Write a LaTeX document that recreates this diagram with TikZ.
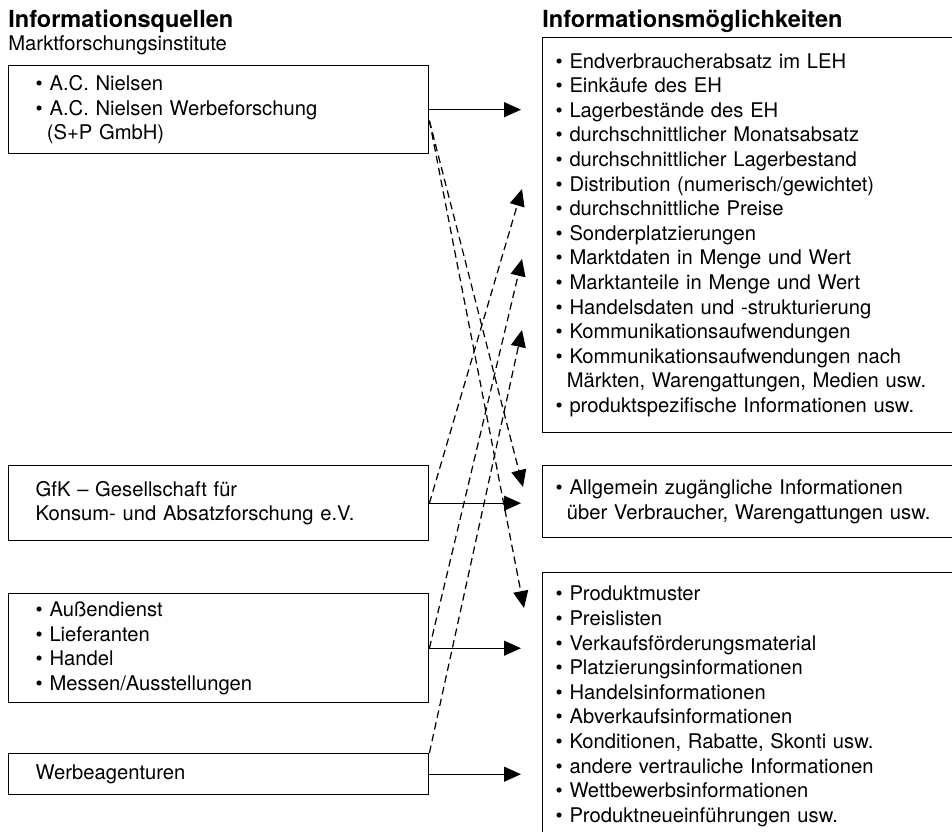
\documentclass[tikz,border=0pt]{standalone}
\usepackage{fontspec}
\setmainfont{TeX Gyre Heros}
\usepackage{tikz}
\usetikzlibrary{positioning,arrows.meta}

\newcommand{\punkt}{\textbullet\ }
\newcommand{\weiter}{\hspace*{0.55em}}

\begin{document}
\begin{tikzpicture}[
        font=\fontsize{11.5pt}{14pt}\selectfont,
        quelle/.style={draw,line width=0.8pt,anchor=north west,minimum width=8.4cm,text width=7.32cm,inner xsep=0.54cm,align=left},
        moeglich/.style={draw,line width=0.8pt,anchor=north west,minimum width=8.66cm,text width=8.14cm,inner xsep=0.26cm,align=left},
        titel/.style={anchor=base west,inner sep=0pt,font=\fontsize{13.4pt}{16pt}\selectfont\bfseries},
        pfeil/.style={line width=0.7pt,-{Triangle[length=0.34cm,width=0.3cm]}},
        strich/.style={pfeil,dash pattern=on 0.15cm off 0.09cm}]
        \useasboundingbox (0,0) rectangle (19.04,-16.64);
        \clip (0,0) rectangle (19.04,-16.64);
        % headings
        \node[titel] (kopfl) at (0.16,-0.56) {Informationsquellen};
        \node[anchor=base west,inner sep=0pt] (institute) at (0.16,-1.02) {Marktforschungsinstitute};
        \node[titel] (kopfr) at (10.84,-0.56) {Informationsmöglichkeiten};
        % sources
        \node[quelle,minimum height=1.76cm] (q1) at (0.16,-1.3) {\punkt A.C. Nielsen\\ \punkt A.C. Nielsen Werbeforschung\\ \weiter(S+P GmbH)};
        \node[quelle,minimum height=1.5cm] (q2) at (0.16,-9.3) {GfK – Gesellschaft für\\ Konsum- und Absatzforschung e.V.};
        \node[quelle,minimum height=2.18cm] (q3) at (0.16,-11.86) {\punkt Außendienst\\ \punkt Lieferanten\\ \punkt Handel\\ \punkt Messen/Ausstellungen};
        \node[quelle,minimum height=0.82cm] (q4) at (0.16,-15.06) {Werbeagenturen};
        % possibilities
        \node[moeglich,minimum height=7.9cm] (r1) at (10.84,-0.74) {\punkt Endverbraucherabsatz im LEH\\ \punkt Einkäufe des EH\\ \punkt Lagerbestände des EH\\ \punkt durchschnittlicher Monatsabsatz\\ \punkt durchschnittlicher Lagerbestand\\ \punkt Distribution (numerisch/gewichtet)\\ \punkt durchschnittliche Preise\\ \punkt Sonderplatzierungen\\ \punkt Marktdaten in Menge und Wert\\ \punkt Marktanteile in Menge und Wert\\ \punkt Handelsdaten und -strukturierung\\ \punkt Kommunikationsaufwendungen\\ \punkt Kommunikationsaufwendungen nach\\ \weiter Märkten, Warengattungen, Medien usw.\\ \punkt produktspezifische Informationen usw.};
        \node[moeglich,minimum height=1.44cm] (r2) at (10.84,-9.3) {\punkt Allgemein zugängliche Informationen\\ \weiter über Verbraucher, Warengattungen usw.};
        \node[moeglich,inner ysep=0.27cm,text depth=5cm] (r3) at (10.84,-11.44) {\punkt Produktmuster\\ \punkt Preislisten\\ \punkt Verkaufsförderungsmaterial\\ \punkt Platzierungsinformationen\\ \punkt Handelsinformationen\\ \punkt Abverkaufsinformationen\\ \punkt Konditionen, Rabatte, Skonti usw.\\ \punkt andere vertrauliche Informationen\\ \punkt Wettbewerbsinformationen\\ \punkt Produktneueinführungen usw.};
        % straight arrows
        \draw[pfeil,shorten >=0.42cm] (q1.east) -- (q1.east -| r1.west);
        \draw[pfeil,shorten >=0.42cm] (q2.east) -- (q2.east -| r2.west);
        \draw[pfeil,shorten >=0.42cm] (q3.east) -- (q3.east -| r3.west);
        \draw[pfeil,shorten >=0.42cm] (q4.east) -- (q4.east -| r3.west);
        % dashed arrows
        \coordinate (q1ab) at ([yshift=-0.22cm]q1.east);
        \coordinate (t1) at (10.44,-3.78);
        \coordinate (t2) at (10.44,-5.18);
        \coordinate (t3) at (10.44,-6.6);
        \coordinate (t4) at (10.46,-9.74);
        \coordinate (t5) at (10.48,-12.16);
        \draw[strich] (q1ab) -- (t4);
        \draw[strich] (q1ab) -- (t5);
        \draw[strich] (q2.east) -- (t1);
        \draw[strich] (q3.east) -- (t2);
        \draw[strich] (q4.north east) -- (t3);
\end{tikzpicture}
\end{document}
